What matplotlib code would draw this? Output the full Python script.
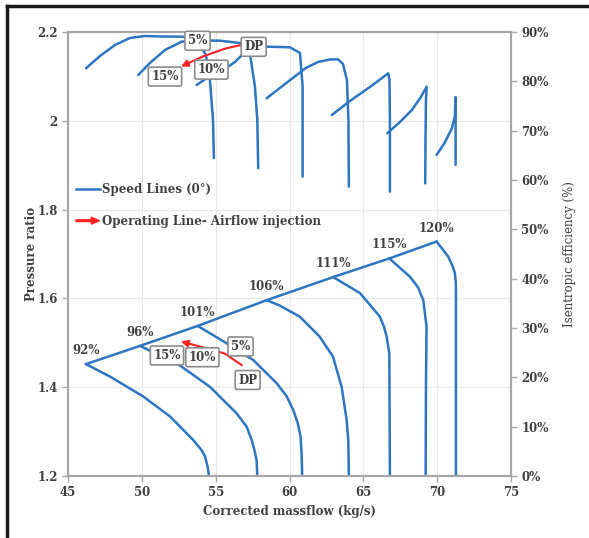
import matplotlib
matplotlib.use("Agg")
import matplotlib.pyplot as plt
import matplotlib.patches as mpatches
from matplotlib.lines import Line2D
from matplotlib.legend_handler import HandlerPatch
from matplotlib.ticker import FuncFormatter

# speed line labels and surge line (massflow kg/s, pressure ratio)
speeds = ["92%", "96%", "101%", "106%", "111%", "115%", "120%"]
surge_mf = [46.22, 49.87, 53.78, 58.45, 62.96, 66.76, 69.96]
surge_pr = [1.452, 1.493, 1.538, 1.596, 1.648, 1.690, 1.728]

# pressure ratio speed lines (from surge point down to choke)
pr_mf = [
    [46.22, 47.84, 50.10, 51.91, 53.48, 54.05, 54.28, 54.45, 54.55],
    [49.87, 52.36, 54.61, 56.42, 57.10, 57.44, 57.65, 57.77, 57.82],
    [53.78, 55.74, 57.55, 59.13, 59.80, 60.25, 60.55, 60.75, 60.82, 60.86],
    [58.45, 59.33, 60.69, 62.04, 62.94, 63.53, 63.87, 63.98, 64.02],
    [62.96, 64.77, 66.12, 66.40, 66.58, 66.76, 66.80],
    [66.76, 68.15, 68.70, 69.06, 69.28, 69.24, 69.22],
    [69.96, 70.75, 71.05, 71.20, 71.25, 71.27, 71.27],
]
pr_val = [
    [1.452, 1.424, 1.379, 1.334, 1.281, 1.258, 1.244, 1.222, 1.200],
    [1.493, 1.454, 1.401, 1.341, 1.311, 1.281, 1.255, 1.236, 1.200],
    [1.538, 1.499, 1.461, 1.409, 1.380, 1.349, 1.320, 1.289, 1.250, 1.200],
    [1.596, 1.584, 1.559, 1.514, 1.469, 1.401, 1.326, 1.281, 1.200],
    [1.648, 1.612, 1.559, 1.536, 1.514, 1.476, 1.200],
    [1.690, 1.649, 1.625, 1.596, 1.536, 1.401, 1.200],
    [1.728, 1.694, 1.672, 1.657, 1.640, 1.626, 1.200],
]

# isentropic efficiency lines (%)
eff_mf = [
    [46.22, 47.17, 48.18, 49.20, 50.21, 51.23, 52.79, 53.80, 54.34, 54.61, 54.82, 54.88],
    [49.76, 50.55, 51.57, 52.70, 53.94, 55.29, 56.76, 57.32, 57.66, 57.82, 57.88],
    [53.71, 54.61, 55.51, 56.31, 56.98, 58.00, 58.45, 60.03, 60.71, 60.89, 60.89],
    [58.45, 59.35, 60.25, 61.11, 61.93, 62.74, 63.28, 63.62, 63.89, 63.99, 64.02],
    [62.87, 64.09, 65.45, 66.69, 66.77, 66.80, 66.80],
    [66.62, 67.48, 68.29, 68.90, 69.29, 69.24, 69.21, 69.19],
    [69.96, 70.50, 71.00, 71.20, 71.25, 71.25],
]
eff_val = [
    [82.65, 85.14, 87.37, 88.79, 89.19, 89.09, 89.05, 87.98, 85.35, 80.29, 72.19, 64.46],
    [81.29, 83.72, 86.36, 88.04, 88.28, 88.24, 87.72, 85.69, 78.92, 72.17, 62.38],
    [79.26, 81.09, 82.30, 83.92, 85.95, 86.97, 87.03, 86.90, 85.75, 78.92, 60.67],
    [76.57, 78.65, 80.74, 82.71, 83.92, 84.43, 84.47, 83.52, 80.27, 72.17, 58.65],
    [73.18, 76.02, 78.86, 81.63, 80.28, 72.17, 57.63],
    [69.47, 71.76, 74.19, 76.83, 78.92, 76.20, 68.10, 59.33],
    [65.07, 67.50, 70.50, 73.00, 76.80, 63.05],
]

# operating line with airflow injection
op_lbl = ["DP", "5%", "10%", "15%"]
op_mf = [56.76, 55.60, 54.10, 52.65]
op_pr = [1.450, 1.476, 1.490, 1.503]
op_eff = [87.4, 86.6, 85.0, 83.0]

blue = "#2E75C2"
red = "#FF2222"
txt = "#404040"
gray = "#a6a6a6"
serif = ["DejaVu Serif"]

fig = plt.figure(figsize=(5.89, 5.38), dpi=100)
ax = fig.add_axes([68 / 589, 1 - 476 / 538, 443 / 589, 444 / 538])
ax2 = ax.twinx()

# speed lines
for mf, pr in zip(pr_mf, pr_val):
    ax.plot(mf, pr, color=blue, lw=1.8, solid_capstyle="round", solid_joinstyle="round")
ax.plot(surge_mf, surge_pr, color=blue, lw=1.8)
for s, x, y in zip(speeds, surge_mf, surge_pr):
    ax.annotate(s, (x, y), xytext=(0, 7), textcoords="offset pixels",
                ha="center", va="bottom", fontsize=8.5, color=txt,
                family=serif, weight="bold")

for mf, e in zip(eff_mf, eff_val):
    ax2.plot(mf, e, color=blue, lw=1.8, solid_capstyle="round", solid_joinstyle="round")

# operating line arrows
def op_arrow(axis, xs, ys):
    axis.plot(xs[:-1], ys[:-1], color=red, lw=1.5)
    axis.annotate("", xy=(xs[-1], ys[-1]), xytext=(xs[-2], ys[-2]),
                  arrowprops=dict(arrowstyle="-|>", color=red, lw=1.5,
                                  mutation_scale=10, shrinkA=0, shrinkB=0))

op_arrow(ax, op_mf, op_pr)
op_arrow(ax2, op_mf, op_eff)

box = dict(boxstyle="round,pad=0.25,rounding_size=0.15", fc="white", ec="#8c8c8c", lw=1.2)
low_off = [(6, -15), (16, 7), (0, -10), (-14, -14)]
up_off = [(12, -2), (-27, 8), (9, -13), (-16, -10)]
for lbl, x, y, o in zip(op_lbl, op_mf, op_pr, low_off):
    ax.annotate(lbl, (x, y), xytext=o, textcoords="offset pixels", ha="center",
                va="center", fontsize=8.5, color=txt, family=serif,
                weight="bold", bbox=box, zorder=5)
for lbl, x, y, o in zip(op_lbl, op_mf, op_eff, up_off):
    ax2.annotate(lbl, (x, y), xytext=o, textcoords="offset pixels", ha="center",
                 va="center", fontsize=8.5, color=txt, family=serif,
                 weight="bold", bbox=box, zorder=5)

# axes
ax.set_xlim(45, 75)
ax.set_ylim(1.2, 2.2)
ax2.set_ylim(0, 90)
ax.set_xticks(range(45, 80, 5))
ax.set_yticks([1.2, 1.4, 1.6, 1.8, 2.0, 2.2])
ax.yaxis.set_major_formatter(FuncFormatter(lambda v, p: f"{v:g}"))
ax2.set_yticks(range(0, 100, 10))
ax2.yaxis.set_major_formatter(FuncFormatter(lambda v, p: f"{v:.0f}%"))
ax.grid(color="#e8e8e8", lw=0.8)
ax.set_axisbelow(True)
for a in (ax, ax2):
    for sp in a.spines.values():
        sp.set_color(gray)
        sp.set_linewidth(1.5)
    a.tick_params(direction="out", length=4, width=1, color=gray, labelcolor=txt,
                  labelsize=8.5)
    for lab in a.get_xticklabels() + a.get_yticklabels():
        lab.set_family(serif)
        lab.set_weight("bold")

ax.set_xlabel("Corrected massflow (kg/s)", family=serif, weight="bold",
              fontsize=8.5, color=txt, labelpad=4)
ax.set_ylabel("Pressure ratio", family=serif, weight="bold", fontsize=8.5,
              color=txt, labelpad=-1)
ax2.set_ylabel("Isentropic efficiency (%)", family=serif, fontsize=8.5,
               color=txt, labelpad=10)

# legend
def make_arrow(legend, orig_handle, xdescent, ydescent, width, height, fontsize):
    return mpatches.FancyArrow(0, height / 2, width, 0, width=1.2, head_width=5,
                               head_length=6, length_includes_head=True, color=red)

handles = [Line2D([], [], color=blue, lw=1.8),
           mpatches.FancyArrow(0, 0, 1, 0, color=red)]
leg = ax2.legend(handles, ["Speed Lines (0\u00b0)", "Operating Line- Airflow injection"],
                 loc="upper left", bbox_to_anchor=(-0.006, 0.684), frameon=False,
                 handlelength=2.0, handletextpad=0.2, labelspacing=1.6,
                 prop=dict(family=serif, weight="bold", size=8.5),
                 handler_map={mpatches.FancyArrow: HandlerPatch(patch_func=make_arrow)})
for t in leg.get_texts():
    t.set_color(txt)

# outer frame of the figure image
fig.add_artist(Line2D([7 / 589, 7 / 589], [0, 1 - 6 / 538], transform=fig.transFigure,
                      color="#1a1a1a", lw=2.5))
fig.add_artist(Line2D([7 / 589, 1], [1 - 6 / 538, 1 - 6 / 538], transform=fig.transFigure,
                      color="#1a1a1a", lw=2.5))

fig.savefig("out.png", dpi=100)
